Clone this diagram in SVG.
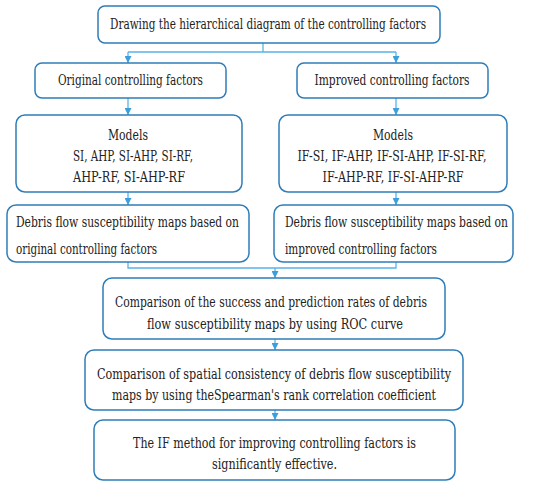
<svg xmlns="http://www.w3.org/2000/svg" width="550" height="487" viewBox="0 0 550 487">
<style>
.box{fill:#fff;stroke:#2f7db8;stroke-width:1.5}
.t{font-family:"DejaVu Serif","Liberation Serif",serif;font-size:14px;fill:#222}
.c{text-anchor:middle}
.ln{fill:none;stroke:#5ab4e6;stroke-width:1.3}
</style>
<defs>
<marker id="ah" viewBox="0 0 10 10" refX="10" refY="5" markerWidth="7" markerHeight="7" markerUnits="userSpaceOnUse" orient="auto">
<path d="M0,0 L10,5 L0,10 z" fill="#3a9fdc"/>
</marker>
</defs>
<rect width="550" height="487" fill="#fff"/>
<g id="connectors">
<path class="ln" d="M263,43 V52 M128,52 H396 M128,52 V63" marker-end="url(#ah)"/>
<path class="ln" d="M396,52 V63" marker-end="url(#ah)"/>
<path class="ln" d="M128,98 V115" marker-end="url(#ah)"/>
<path class="ln" d="M396,98 V115" marker-end="url(#ah)"/>
<path class="ln" d="M128,192 V205" marker-end="url(#ah)"/>
<path class="ln" d="M396,192 V205" marker-end="url(#ah)"/>
<path class="ln" d="M128,262 V268 H396 V262 M275,268 V278" marker-end="url(#ah)"/>
<path class="ln" d="M275,339 V350" marker-end="url(#ah)"/>
<path class="ln" d="M275,410 V420" marker-end="url(#ah)"/>
</g>
<g id="n1"><rect class="box" x="98" y="6" width="342" height="37" rx="7"/>
<text class="t c" x="268" y="29" textLength="316" lengthAdjust="spacingAndGlyphs">Drawing the hierarchical diagram of the controlling factors</text></g>
<g id="n2"><rect class="box" x="35" y="63" width="191" height="35" rx="7"/>
<text class="t c" x="130.5" y="85" textLength="145" lengthAdjust="spacingAndGlyphs">Original controlling factors</text></g>
<g id="n3"><rect class="box" x="297" y="63" width="191" height="35" rx="7"/>
<text class="t c" x="392" y="85" textLength="155" lengthAdjust="spacingAndGlyphs">Improved controlling factors</text></g>
<g id="n4"><rect class="box" x="16" y="115" width="226" height="77" rx="9"/>
<text class="t c" x="128" y="140" textLength="40" lengthAdjust="spacingAndGlyphs">Models</text>
<text class="t c" x="133" y="161" textLength="120" lengthAdjust="spacingAndGlyphs">SI, AHP, SI-AHP, SI-RF,</text>
<text class="t c" x="129" y="182" textLength="112" lengthAdjust="spacingAndGlyphs">AHP-RF, SI-AHP-RF</text></g>
<g id="n5"><rect class="box" x="279" y="115" width="228" height="77" rx="9"/>
<text class="t c" x="393" y="140" textLength="40" lengthAdjust="spacingAndGlyphs">Models</text>
<text class="t c" x="392" y="161" textLength="189" lengthAdjust="spacingAndGlyphs">IF-SI, IF-AHP, IF-SI-AHP, IF-SI-RF,</text>
<text class="t c" x="393" y="182" textLength="141" lengthAdjust="spacingAndGlyphs">IF-AHP-RF, IF-SI-AHP-RF</text></g>
<g id="n6"><rect class="box" x="7" y="205" width="242" height="57" rx="9"/>
<text class="t" x="16" y="227" textLength="223" lengthAdjust="spacingAndGlyphs">Debris flow susceptibility maps based on</text>
<text class="t" x="16" y="254" textLength="141" lengthAdjust="spacingAndGlyphs">original controlling factors</text></g>
<g id="n7"><rect class="box" x="274" y="205" width="239" height="57" rx="9"/>
<text class="t" x="285" y="227" textLength="223" lengthAdjust="spacingAndGlyphs">Debris flow susceptibility maps based on</text>
<text class="t" x="285" y="254" textLength="152" lengthAdjust="spacingAndGlyphs">improved controlling factors</text></g>
<g id="n8"><rect class="box" x="103" y="278" width="342" height="61" rx="9"/>
<text class="t c" x="271" y="307" textLength="312" lengthAdjust="spacingAndGlyphs">Comparison of the success and prediction rates of debris</text>
<text class="t c" x="275" y="329" textLength="256" lengthAdjust="spacingAndGlyphs">flow susceptibility maps by using ROC curve</text></g>
<g id="n9"><rect class="box" x="85" y="350" width="378" height="60" rx="9"/>
<text class="t c" x="274" y="379" textLength="354" lengthAdjust="spacingAndGlyphs">Comparison of spatial consistency of debris flow susceptibility</text>
<text class="t c" x="274" y="400" textLength="324" lengthAdjust="spacingAndGlyphs">maps by using theSpearman's rank correlation coefficient</text></g>
<g id="n10"><rect class="box" x="94" y="420" width="361" height="60" rx="9"/>
<text class="t c" x="274.5" y="448" textLength="283" lengthAdjust="spacingAndGlyphs">The IF method for improving controlling factors is</text>
<text class="t c" x="274.5" y="469" textLength="125" lengthAdjust="spacingAndGlyphs">significantly effective.</text></g>
</svg>
